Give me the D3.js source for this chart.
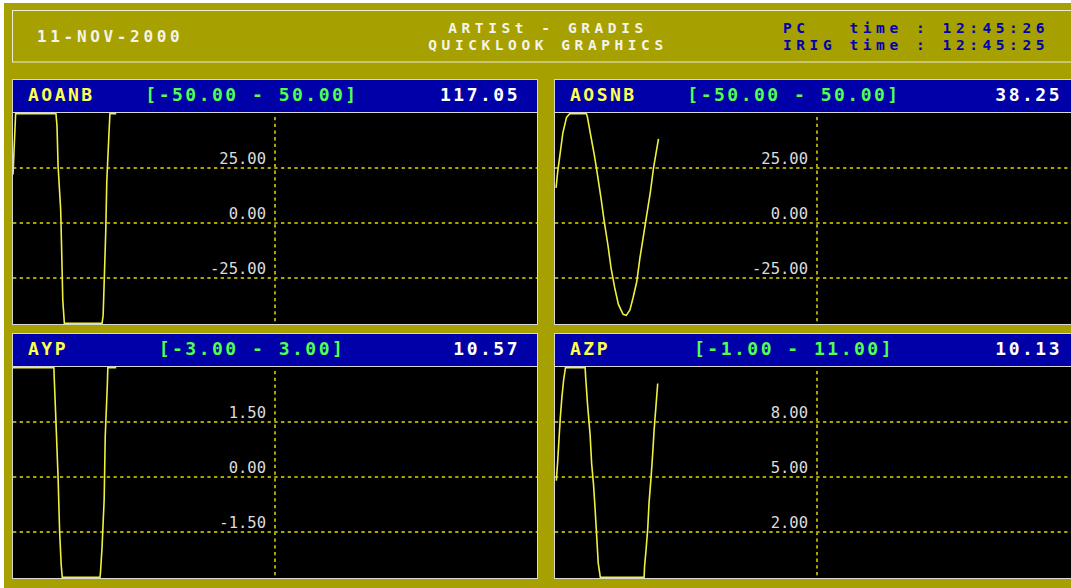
<!DOCTYPE html>
<html>
<head>
<meta charset="utf-8">
<script src="https://cdn.jsdelivr.net/npm/d3@7/dist/d3.min.js"></script>
<style>
  html, body { margin: 0; padding: 0; background: #fff; overflow: hidden; }
  svg { display: block; }
  text { white-space: pre; }
</style>
</head>
<body>
<div id="chart"></div>
<script>
// 页眉文字
const headerDate = "11-NOV-2000";
const headerTitle = ["ARTISt - GRADIS", "QUICKLOOK GRAPHICS"];
const headerTimes = ["PC   time : 12:45:26", "IRIG time : 12:45:25"];

// 通道信息
const channelNames = ["AOANB", "AOSNB", "AYP", "AZP"];
const channelRanges = [[-50, 50], [-50, 50], [-3, 3], [-1, 11]];
const channelCurrent = [117.05, 38.25, 10.57, 10.13];
const channelTicks = [[25, 0, -25], [25, 0, -25], [1.5, 0, -1.5], [8, 5, 2]];

// 采样 [时间, 数值]
const aoanbSamples = [[0, 22], [0.2, 33], [0.5, 50], [8.2, 50], [8.4, 44], [8.6, 26], [9.1, 6], [9.3, -14],
  [9.5, -35], [9.8, -50], [17.0, -50], [17.2, -42], [17.4, -27], [17.7, -4], [17.9, 19], [18.3, 40],
  [18.5, 50], [19.7, 50]];
const aosnbSamples = [[0.2, 16], [0.5, 23], [1.0, 32], [1.5, 41], [2.2, 48], [2.8, 50], [6.0, 50], [6.2, 48],
  [6.8, 40], [7.5, 31], [8.1, 22], [8.8, 11], [9.4, 0.6], [10.1, -10], [10.7, -20.5], [11.4, -29.5],
  [12.1, -37], [13.0, -41.5], [13.6, -42], [14.3, -39.5], [14.9, -34], [15.6, -26.7], [16.2, -16],
  [16.9, -5.5], [17.5, 3.6], [18.2, 14], [18.8, 25], [19.3, 32], [19.75, 38.25]];
const aypSamples = [[0, 3], [7.8, 3], [7.9, 2.6], [8.2, 1.5], [8.6, 0], [8.9, -1.5], [9.2, -2.4], [9.4, -3],
  [16.6, -3], [16.7, -2.6], [17.0, -1.9], [17.4, -0.6], [17.6, 1.1], [18.0, 2.5], [18.1, 3], [19.7, 3]];
const azpSamples = [[0.25, 4.8], [0.5, 5.8], [0.75, 7.0], [1.0, 8.2], [1.3, 9.3], [1.65, 10.3], [2.0, 11],
  [5.75, 11], [5.85, 10.45], [6.2, 9.0], [6.7, 7.3], [7.0, 5.7], [7.35, 4.6], [7.6, 3.5], [7.95, 1.8],
  [8.25, 0.3], [8.65, -1], [17.0, -1], [17.1, 0.15], [17.4, 1.1], [17.7, 2.2], [17.95, 3.6], [18.35, 5.05],
  [18.65, 6.3], [18.9, 7.5], [19.25, 8.8], [19.6, 10.1]];
const channelSamples = [aoanbSamples, aosnbSamples, aypSamples, azpSamples];

const W = 1071, H = 588;
const OLIVE = "#a6a000", BLUE = "#0000a8", EDGE = "#d8d8d0";
const MONO = "'DejaVu Sans Mono', 'Liberation Mono', monospace";

const svg = d3.select("#chart").append("svg").attr("width", W).attr("height", H);

// 背景
svg.append("rect").attr("x", 4).attr("y", 3).attr("width", W - 4).attr("height", H - 3).attr("fill", OLIVE);

// 顶部标题框
svg.append("rect").attr("x", 12.5).attr("y", 10.5).attr("width", 1080).attr("height", 51.5)
  .attr("fill", "none").attr("stroke", "#ecebd8").attr("stroke-width", 1);

const headTxt = (x, y, str, color, anchor, size) => svg.append("text")
  .attr("x", x).attr("y", y).attr("text-anchor", anchor || "start")
  .style("font-family", MONO).style("font-size", (size || 14.5) + "px")
  .style("letter-spacing", (13.3 - (size || 14.5) * 0.602).toFixed(2) + "px")
  .style("font-weight", "bold")
  .attr("fill", color).text(str);

headTxt(37, 41.5, headerDate, "#f4f4ec", "start", 16);
headTxt(548, 32.5, headerTitle[0], "#f4f4ec", "middle");
headTxt(548, 49.5, headerTitle[1], "#f4f4ec", "middle");
headTxt(783, 32.5, headerTimes[0], "#0000b0");
headTxt(783, 49.5, headerTimes[1], "#0000b0");

// 面板布局
const panelW = 526, panelH = 246;
const panelX = [12, 554], panelY = [79, 333];

channelNames.forEach((name, i) => {
  const x0 = panelX[i % 2], y0 = panelY[Math.floor(i / 2)];
  const plotLeft = x0 + 1, plotTop = y0 + 34;
  const plotW = panelW - 2, plotBottom = y0 + panelH - 1;
  const g = svg.append("g");

  // 外框 + 黑底
  g.append("rect").attr("x", x0 + 0.5).attr("y", y0 + 0.5).attr("width", panelW - 1).attr("height", panelH - 1)
    .attr("fill", "#000").attr("stroke", EDGE).attr("stroke-width", 1);
  g.append("rect").attr("x", x0 + 1).attr("y", y0 + 1).attr("width", panelW - 2).attr("height", 32).attr("fill", BLUE);
  g.append("line").attr("x1", x0 + 1).attr("x2", x0 + panelW - 1).attr("y1", y0 + 33.5).attr("y2", y0 + 33.5)
    .attr("stroke", EDGE).attr("stroke-width", 1);

  // 标题栏文字
  const [lo, hi] = channelRanges[i];
  const hdr = (x, str, color, anchor) => g.append("text")
    .attr("x", x).attr("y", y0 + 22).attr("text-anchor", anchor)
    .style("font-family", MONO).style("font-size", "18px").style("font-weight", "bold")
    .style("letter-spacing", "2.5px").attr("fill", color).text(str);
  hdr(x0 + 16, name, "#ffff50", "start");
  hdr(x0 + 240, `[${lo.toFixed(2)} - ${hi.toFixed(2)}]`, "#50ff50", "middle");
  hdr(x0 + 508, channelCurrent[i].toFixed(2), "#ffffff", "end");

  // 比例尺
  const x = d3.scaleLinear().domain([0, 100]).range([plotLeft, plotLeft + plotW]);
  const y = d3.scaleLinear().domain([lo, hi]).range([plotTop + 220, plotTop]);

  // 网格
  const gridColor = "#aaa400";
  g.selectAll(".hgrid").data(channelTicks[i]).enter().append("line")
    .attr("x1", plotLeft).attr("x2", plotLeft + plotW)
    .attr("y1", d => Math.round(y(d))).attr("y2", d => Math.round(y(d)))
    .attr("stroke", gridColor).attr("stroke-width", 2).attr("stroke-dasharray", "3.3,3.4");
  g.append("line")
    .attr("x1", Math.round(x(50))).attr("x2", Math.round(x(50)))
    .attr("y1", plotTop + 4).attr("y2", plotBottom)
    .attr("stroke", gridColor).attr("stroke-width", 2).attr("stroke-dasharray", "3.3,3.4");

  g.selectAll(".tlab").data(channelTicks[i]).enter().append("text")
    .attr("x", x(50) - 9).attr("y", d => Math.round(y(d)) - 4)
    .attr("text-anchor", "end")
    .style("font-family", MONO).style("font-size", "15.5px")
    .attr("fill", "#dcdcdc").text(d => d.toFixed(2));

  // 曲线 (超出显示范围时贴边)
  const clipId = "clip" + i;
  svg.append("clipPath").attr("id", clipId).append("rect")
    .attr("x", plotLeft).attr("y", plotTop).attr("width", plotW).attr("height", plotBottom - plotTop);
  const line = d3.line()
    .x(d => x(d[0]))
    .y(d => Math.max(plotTop + 0.75, Math.min(plotBottom - 0.75, y(d[1]))));
  g.append("path").datum(channelSamples[i])
    .attr("clip-path", `url(#${clipId})`)
    .attr("fill", "none").attr("stroke", "#f0f040").attr("stroke-width", 1.6)
    .attr("d", line);
});
</script>
</body>
</html>
